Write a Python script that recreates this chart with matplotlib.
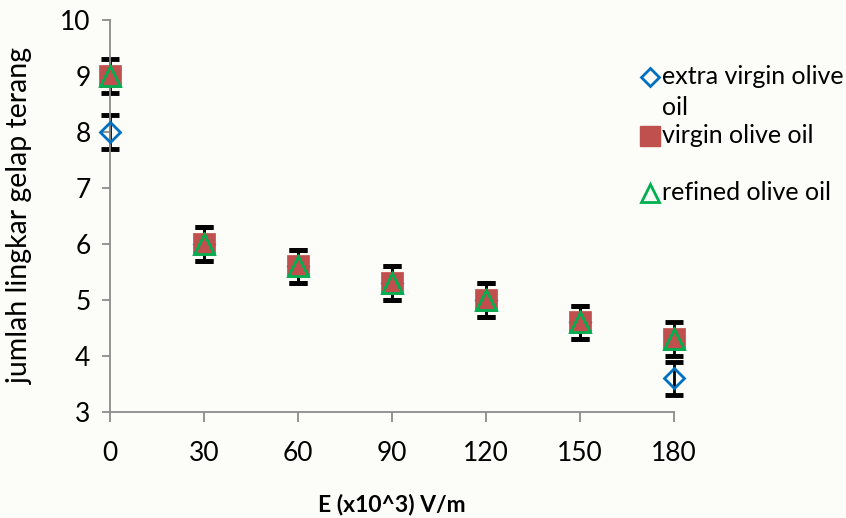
import numpy as np
import matplotlib.pyplot as plt
from matplotlib.lines import Line2D

plt.rcParams['font.family'] = ['Lato', 'DejaVu Sans']

# medan listrik (x10^3 V/m)
E = [0, 30, 60, 90, 120, 150, 180]
# jumlah lingkar gelap terang
extra_virgin = [8, 6, 5.6, 5.3, 5.0, 4.6, 3.6]
virgin = [9, 6, 5.6, 5.3, 5.0, 4.6, 4.3]
refined = [9, 6, 5.6, 5.3, 5.0, 4.6, 4.3]
err = [0.3, 0.3, 0.3, 0.3, 0.3, 0.3, 0.3]

blue = '#0070C0'
red = '#C0504D'
green = '#00B050'
bg = '#fcfcf8'

fig = plt.figure(figsize=(8.46, 5.18), dpi=100, facecolor=bg)
ax = fig.add_axes([0.130, 0.2046, 0.667, 0.7564], facecolor=bg)

ebkw = dict(fmt='none', ecolor='black', elinewidth=2, capsize=6.5, capthick=3.5, zorder=2)
for ys in (extra_virgin, virgin):
    eb = ax.errorbar(E, ys, yerr=err, **ebkw)
    for art in eb.lines[1] + eb.lines[2]:
        art.set_clip_on(False)

ax.plot(E, extra_virgin, ls='none', marker='D', ms=9.8, mfc='none', mec=blue, mew=2,
        clip_on=False, zorder=3)
ax.plot(E, virgin, ls='none', marker='s', ms=15.5, mfc=red, mec=red, mew=0.5,
        clip_on=False, zorder=4)
ax.plot(E, refined, ls='none', marker='^', ms=14, mfc='none', mec=green, mew=2,
        clip_on=False, zorder=5)

ax.set_xlim(0, 180)
ax.set_ylim(3, 10)
ax.set_xticks(E)
ax.set_yticks(np.arange(3, 11, 1))
for s in ['top', 'right']:
    ax.spines[s].set_visible(False)
for s in ['left', 'bottom']:
    ax.spines[s].set_color('#8c8c8c')
    ax.spines[s].set_linewidth(1.3)
ax.tick_params(axis='x', direction='out', length=7, width=1.3, color='#8c8c8c',
               pad=14, labelsize=19)
ax.tick_params(axis='y', direction='out', length=6, width=1.3, color='#8c8c8c',
               pad=8, labelsize=19)

ax.set_xlabel('E (x10^3) V/m', fontsize=16.5, fontweight='bold', labelpad=20)
ax.set_ylabel('jumlah lingkar gelap terang', fontsize=20.5)
ax.yaxis.set_label_coords(-0.137, 0.5)

# legenda manual
def fy(py):
    return 1 - py / 518

def fx(px):
    return px / 846

fig.add_artist(Line2D([fx(650)], [fy(77)], transform=fig.transFigure, marker='D', ms=9.5,
                      mfc='none', mec=blue, mew=2))
fig.add_artist(Line2D([fx(650)], [fy(136)], transform=fig.transFigure, marker='s', ms=15,
                      mfc=red, mec=red))
fig.add_artist(Line2D([fx(650)], [fy(193)], transform=fig.transFigure, marker='^', ms=13,
                      mfc='none', mec=green, mew=2))
fig.text(fx(662), fy(92), 'extra virgin olive\noil', fontsize=18, va='center', ha='left',
         linespacing=1.45)
fig.text(fx(662), fy(136), 'virgin olive oil', fontsize=18, va='center', ha='left')
fig.text(fx(662), fy(193), 'refined olive oil', fontsize=18, va='center', ha='left')

fig.savefig('out.png', dpi=100, facecolor=bg)
